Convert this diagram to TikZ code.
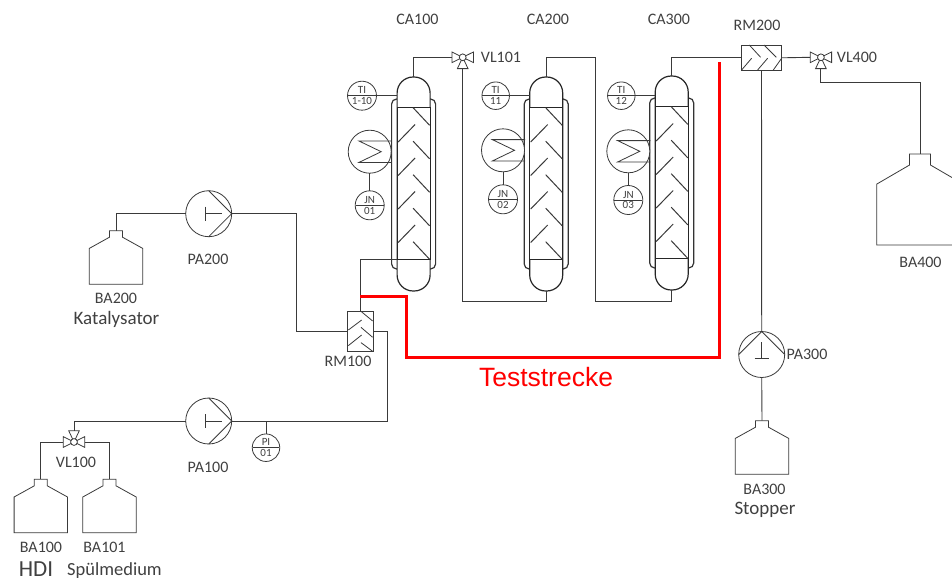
\documentclass[tikz,border=0pt]{standalone}
\usepackage{fontspec}
\setmainfont{Carlito}
\newfontfamily\arialfont{Liberation Sans}
\usepackage{xcolor}
\usetikzlibrary{arrows.meta, positioning, shapes.multipart}

\definecolor{txtgray}{HTML}{404040}
\definecolor{linegray}{HTML}{3a3a3a}

% reactor column: jacket, vessel, packed section
\newcommand{\column}[3]{
    \node[jacket] (#1jacket) at (#2,#3+107) {};
    \node[vessel] (#1) at (#2,#3+107) {};
    \node[packing] (#1body) at (#2,#3+106) {};
    \begin{scope}[shift={(#1body.north west)}]
        \foreach \i in {0,...,4}
            \draw[baffle] (16,0.7+33.5*\i) -- (32.5,18.3+33.5*\i);
        \foreach \i in {0,...,3}
            \draw[baffle] (1,35+33.5*\i) -- (18,17.5+33.5*\i);
    \end{scope}
}
\newcommand{\pump}[4]{
    \node[pumpbody] (#1) at (#2,#3) {};
    \draw[thinline, shift={(#1.center)}, rotate=#4] (0,-23) -- (23,0) -- (0,23);
    \draw[thinline, shift={(#1.center)}, rotate=#4] (-3.7,-7) -- (-3.7,7) (-3.7,0) -- (13,0);
}
\newcommand{\valve}[4]{
    \node[valvebox, rotate=#4] (#1) at (#2,#3) {};
    \draw[thinline, fill=white, shift={(#1.center)}, rotate=#4]
        (-10.7,-5.3) -- (-10.7,5.3) -- (0,0) -- cycle
        (10.7,-5.3) -- (10.7,5.3) -- (0,0) -- cycle
        (-5.3,11.3) -- (5.3,11.3) -- (0,0) -- cycle;
    \draw[thinline, fill=white] (#1.center) circle (3.4);
}
\newcommand{\bottle}[4]{
    \coordinate (#1) at (#2,#3);
    \draw[thinline, shift={(#1)}, #4]
        (-6.5,0) -- (6.5,0) -- (6.5,6.5) -- (26.7,17.7) -- (26.7,53.5)
        -- (-26.7,53.5) -- (-26.7,17.7) -- (-6.5,6.5) -- cycle;
}
\newcommand{\heater}[3]{
    \node[hxbody] (#1) at (#2,#3) {};
    \draw[thinline, shift={(#1.center)}] (22,-10.7) -- (-10.7,-10.7) -- (11.5,0) -- (-10.7,10.7) -- (22,10.7);
}

\begin{document}
\begin{tikzpicture}[
        x=1pt, y=-1pt,
        every node/.style={text=txtgray, font=\fontsize{16}{18}\selectfont},
        pipe/.style={draw=linegray, line width=0.9pt},
        thinline/.style={draw=linegray, line width=0.8pt},
        baffle/.style={draw=linegray, line width=1pt},
        testline/.style={draw=red, line width=3pt},
        jacket/.style={rectangle, draw=black!80, line width=1.2pt, fill=white, rounded corners=5pt,
                       inner sep=0pt, outer sep=0pt, minimum width=44pt, minimum height=170pt},
        vessel/.style={rectangle, draw=black!85, line width=1.2pt, fill=white, rounded corners=16pt,
                       inner sep=0pt, outer sep=0pt, minimum width=33pt, minimum height=214pt},
        packing/.style={rectangle, draw=black!85, line width=1pt, fill=white,
                        inner sep=0pt, outer sep=0pt, minimum width=33pt, minimum height=152pt},
        pumpbody/.style={circle, thinline, fill=white, inner sep=0pt, outer sep=0pt, minimum size=46pt},
        hxbody/.style={circle, thinline, fill=white, inner sep=0pt, outer sep=0pt, minimum size=43pt},
        valvebox/.style={rectangle, inner sep=0pt, outer sep=0pt, minimum width=21.4pt, minimum height=22.6pt},
        mixer/.style={rectangle, thinline, fill=white, inner sep=0pt, outer sep=0pt},
        instr/.style={circle split, thinline, fill=white, inner xsep=0pt, inner ysep=1.4pt, outer sep=0pt,
                      minimum size=27.5pt, font=\fontsize{11}{11}\selectfont},
    ]
    \clip (0,0) rectangle (952,581);

    % columns
    \column{ca100}{413.6}{77}
    \column{ca200}{546.2}{77}
    \column{ca300}{671.7}{76}

    % instruments and heaters
    \node[instr] (ti110) at (362,95.7) {TI\nodepart{lower}1-10};
    \node[instr] (ti11) at (495.7,95.7) {TI\nodepart{lower}11};
    \node[instr] (ti12) at (621.3,95.7) {TI\nodepart{lower}12};
    \node[instr, minimum size=29pt] (jn01) at (369.7,205.3) {JN\nodepart{lower}01};
    \node[instr, minimum size=29pt] (jn02) at (503,199.3) {JN\nodepart{lower}02};
    \node[instr, minimum size=29pt] (jn03) at (628.3,200) {JN\nodepart{lower}03};
    \node[instr] (pi01) at (266,447.7) {PI\nodepart{lower}01};
    \heater{hx1}{369.7}{151.7}
    \heater{hx2}{503}{150.3}
    \heater{hx3}{628.3}{151.3}

    % pumps, valves, bottles
    \pump{pa200}{208.7}{213.7}{0}
    \pump{pa100}{208.7}{421}{0}
    \pump{pa300}{761.7}{354.5}{90}
    \valve{vl101}{462.7}{57.3}{0}
    \valve{vl400}{820.9}{57.3}{0}
    \valve{vl100}{74}{442}{180}
    \bottle{ba200}{116}{230.7}{scale=1}
    \bottle{ba100}{40.8}{479.3}{scale=1}
    \bottle{ba101}{109.5}{479.3}{scale=1}
    \bottle{ba300}{762}{420.7}{scale=1}
    \bottle{ba400}{920}{154}{xscale=1.62, yscale=1.7}

    % mixers
    \node[mixer, minimum width=25.3pt, minimum height=40pt] (rm100) at (360.3,331.3) {};
    \begin{scope}[shift={(rm100.north west)}]
        \draw[thinline] (13.3,0) -- (25,9.7) (0.7,18.7) -- (14,8.7) (13.3,16) -- (25,26)
            (0.7,34.3) -- (14,23.7) (13.3,31.3) -- (25,40);
    \end{scope}
    \node[mixer, minimum width=40.4pt, minimum height=25.6pt] (rm200) at (761.5,57.8) {};
    \begin{scope}[shift={(rm200.north west)}]
        \draw[thinline] (8,0) -- (19.3,12.3) (22.7,0) -- (35,12.3) (0.3,25) -- (10.3,13.3)
            (16.3,25) -- (26.3,13.3) (32,25) -- (40.3,13.3);
    \end{scope}

    % pipes
    \draw[pipe] (ba200) |- (pa200.west);
    \draw[pipe] (pa200.east) -- ++(65,0) |- (rm100.west);
    \draw[pipe] (pa100.east) -- ++(155.8,0) |- (rm100.east);
    \draw[pipe] (vl100.south) |- (pa100.west);
    \draw[pipe] (vl100.east) -| (ba100);
    \draw[pipe] (vl100.west) -| (ba101);
    \draw[pipe] (pi01.north) -- (pi01.north |- pa100.east);
    \draw[pipe] (rm100.north) |- (ca100body.south west);
    \draw[pipe] (ca100.north) |- (vl101.west);
    \draw[pipe] (vl101.south) -- ++(0,232.6) -| (ca200.south);
    \draw[pipe] (ca200.north) |- ++(49,-19.7) -- ++(0,244) -| (ca300.south);
    \draw[pipe] (ca300.north) |- (rm200.west);
    \draw[pipe] (rm200.east) -- (vl400.west);
    \draw[pipe] (vl400.south) -- ++(0,13.6) -| (ba400);
    \draw[pipe] (rm200.south) -- (pa300.north);
    \draw[pipe] (pa300.south) -- (ba300);
    \draw[thinline] (ti110.east) -- (ti110.east -| ca100.west);
    \draw[thinline] (ti11.east) -- (ti11.east -| ca200.west);
    \draw[thinline] (ti12.east) -- (ti12.east -| ca300.west);
    \draw[thinline] (hx1.south) -- (jn01.north);
    \draw[thinline] (hx2.south) -- (jn02.north);
    \draw[thinline] (hx3.south) -- (jn03.north);

    % test section
    \coordinate (ts0) at (360.3,296.3);
    \coordinate (ts1) at (719,61.7);
    \draw[testline] (ts0) -| (406.5,357.3) -| (ts1);

    % labels
    \node (lca100) at (417.5,19.5) {CA100};
    \node (lca200) at (548,19.5) {CA200};
    \node (lca300) at (669,19.5) {CA300};
    \node (lrm200) at (757,25) {RM200};
    \node (lvl101) at (501,57.5) {VL101};
    \node (lvl400) at (857,57.5) {VL400};
    \node (lba400) at (920.5,262) {BA400};
    \node (lpa200) at (208,259) {PA200};
    \node (lba200) at (116,298) {BA200};
    \node[font=\fontsize{19}{20}\selectfont] (lkat) at (116.5,319.5) {Katalysator};
    \node (lrm100) at (348,361.5) {RM100};
    \node (lpa100) at (208,467) {PA100};
    \node (lvl100) at (76,462) {VL100};
    \node (lba100) at (41,547) {BA100};
    \node (lba101) at (104.5,547) {BA101};
    \node[font=\fontsize{23}{24}\selectfont] (lhdi) at (36,569.5) {HDI};
    \node[font=\fontsize{18.5}{20}\selectfont] (lspuel) at (114.5,570.5) {Spülmedium};
    \node (lpa300) at (807,354.5) {PA300};
    \node (lba300) at (764.5,489) {BA300};
    \node[font=\fontsize{19}{20}\selectfont] (lstop) at (765,509.5) {Stopper};
    \node[text=red, font=\arialfont\fontsize{26.5}{28}\selectfont] (lts) at (546,377) {Teststrecke};
\end{tikzpicture}
\end{document}
